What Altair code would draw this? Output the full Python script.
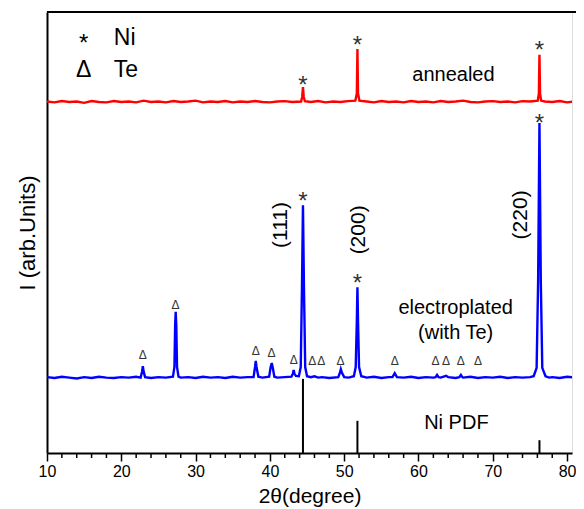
import altair as alt
import pandas as pd

# ---------------- data ----------------
red_x = [10, 11, 12, 13, 14, 15, 16, 17, 18, 19, 20, 21, 22, 23, 24, 25, 26, 27, 28, 29,
         30, 31, 32, 33, 34, 35, 36, 37, 38, 39, 40, 41, 42, 43,
         44.2, 44.35, 44.45, 44.55, 44.7,
         45.5, 46.5, 47.5, 48.5, 49.5, 50.5, 51.5,
         51.7, 51.78, 51.86, 52.05,
         53, 54, 55, 56, 57, 58, 59, 60, 61, 62, 63, 64, 65, 66, 67, 68, 69, 70, 71, 72, 73, 74, 75,
         76.05, 76.2, 76.28, 76.36, 76.5,
         77, 78, 79, 80, 81, 82, 83]
red_y = [797, 795, 798, 796, 797, 794, 798, 796, 795, 798, 796, 797, 795, 799, 796, 797, 795, 798, 796, 797,
         799, 795, 797, 796, 798, 795, 797, 796, 798, 796, 795, 797, 798, 796,
         797, 808, 830, 808, 798,
         796, 798, 795, 797, 796, 798, 799,
         815, 916, 815, 799,
         797, 795, 798, 796, 797, 795, 798, 796, 797, 795, 798, 796, 797, 799, 796, 795, 797, 798, 796, 797, 795, 798, 797,
         799, 815, 903, 815, 799,
         797, 796, 798, 795, 797, 796, 797]

blue_x = [10, 11, 12, 13, 14, 15, 16, 17, 18, 19, 20, 21, 22,
          22.6, 22.8, 22.9, 23.0, 23.2,
          24, 25, 26,
          26.95, 27.15, 27.25, 27.32, 27.4, 27.5, 27.7,
          28, 29, 30, 31, 32, 33, 34, 35, 36, 37,
          37.8, 38.0, 38.1, 38.2, 38.45,
          39, 39.9, 40.1, 40.25, 40.4, 40.6,
          41, 42, 42.9, 43.1, 43.2, 43.3, 43.5,
          43.9, 44.15, 44.32, 44.45, 44.58, 44.75, 45.0,
          45.5, 46.0, 46.5, 47, 48, 49.2, 49.45, 49.55, 49.7, 50, 50.6,
          51.3, 51.55, 51.7, 51.78, 51.86, 52.0, 52.3,
          52.8, 53, 54, 55, 56, 56.5, 56.8, 57.1,
          58, 59, 60, 61, 62, 62.3, 62.5, 62.7, 63, 63.7, 64, 65, 65.5, 65.7, 65.9,
          66, 67, 68, 69, 70, 71, 72, 73, 74, 75,
          75.5, 75.9, 76.1, 76.28, 76.46, 76.66, 77.1,
          77.6, 78, 79, 80, 81, 82, 83]
blue_y = [172, 170, 173, 171, 169, 172, 170, 173, 171, 170, 172, 171, 173,
          171, 185, 197, 185, 172,
          170, 172, 171,
          173, 195, 290, 320, 290, 195, 173,
          171, 172, 170, 173, 171, 172, 170, 173, 171, 172,
          172, 195, 209, 195, 173,
          171, 173, 195, 204, 192, 173,
          171, 172, 173, 180, 188, 180, 175,
          174, 195, 380, 562, 380, 195, 174,
          172, 174, 171, 172, 170, 172, 183, 190, 182, 172, 171,
          174, 195, 300, 376, 300, 195, 174,
          172, 171, 173, 170, 172, 172, 181, 172,
          171, 173, 170, 172, 171, 172, 177, 172, 171, 175, 172, 170, 172, 177, 172,
          171, 173, 170, 172, 171, 173, 170, 172, 171, 172,
          174, 193, 390, 748, 390, 193, 174,
          171, 172, 170, 173, 171, 172, 171]

pdf_x = [44.45, 51.78, 76.28]
pdf_h = [168, 73, 29]

minor_ticks = [12, 14, 16, 18, 22, 24, 26, 28, 32, 34, 36, 38, 42, 44, 46, 48,
               52, 54, 56, 58, 62, 64, 66, 68, 72, 74, 76, 78]

star_x = [44.45, 51.78, 76.28, 44.45, 51.78, 76.28]
star_y = [848, 939, 927, 585, 399, 762]

tri_x = [22.9, 27.3, 38.1, 40.2, 43.2, 45.7, 46.9, 49.5, 56.8, 62.3, 63.7, 65.7, 68.0]
tri_y = [222, 336, 231, 227, 211, 209, 209, 209, 209, 209, 209, 209, 209]

label_text = ["annealed", "electroplated", "(with Te)", "Ni PDF"]
label_x = [64.7, 65.0, 65.0, 65.1]
label_y = [857, 329, 272, 68]

hkl_text = ["(111)", "(200)", "(220)"]
hkl_x = [41.45, 51.95, 73.76]
hkl_y = [517, 506, 540]

legend_sym = ["*", "Δ"]
legend_name = ["Ni", "Te"]
legend_sym_x = [14.95, 14.95]
legend_name_x = [19.0, 19.0]
legend_y = [941, 868]
legend_sym_dy = [6, 0]

FONT = "Liberation Sans"
W, H = 525, 441

xscale = alt.Scale(domain=[10, 80.66], nice=False, zero=False)
yscale = alt.Scale(domain=[0, 1000], nice=False, zero=False)

xaxis = alt.Axis(values=[10, 20, 30, 40, 50, 60, 70, 80], tickSize=8, tickWidth=1.5,
                 tickColor="black", domainColor="black", domainWidth=2,
                 labelFontSize=16, labelFont=FONT, labelColor="black", labelPadding=2,
                 labelFlush=False, labelOverlap=False,
                 title="2θ(degree)", titleFont=FONT, titleFontSize=21,
                 titleFontWeight="normal", titleColor="black", titlePadding=6, grid=False)
yaxis = alt.Axis(labels=False, ticks=False, grid=False, domainColor="black", domainWidth=2,
                 title="I (arb.Units)", titleFont=FONT, titleFontSize=22,
                 titleFontWeight="normal", titleColor="black", titlePadding=8)

red_df = pd.DataFrame({"x": red_x, "y": red_y})
blue_df = pd.DataFrame({"x": blue_x, "y": blue_y})

red = alt.Chart(red_df).mark_line(color="#ff0000", strokeWidth=2.4, clip=True).encode(
    x=alt.X("x:Q", scale=xscale, axis=xaxis),
    y=alt.Y("y:Q", scale=yscale, axis=yaxis))
blue = alt.Chart(blue_df).mark_line(color="#0000ff", strokeWidth=2.4, clip=True).encode(
    x=alt.X("x:Q", scale=xscale), y=alt.Y("y:Q", scale=yscale))

pdf = alt.Chart(pd.DataFrame({"x": pdf_x, "h": pdf_h, "b": [0] * len(pdf_x)})).mark_rule(
    color="black", strokeWidth=2).encode(
    x=alt.X("x:Q", scale=xscale), y=alt.Y("b:Q", scale=yscale), y2="h:Q")

minor = alt.Chart(pd.DataFrame({"x": minor_ticks})).mark_rule(
    color="black", strokeWidth=1.5, clip=False).encode(
    x=alt.X("x:Q", scale=xscale), y=alt.value(H), y2=alt.value(H + 5))

top_border = alt.Chart(pd.DataFrame({"x": [0]})).mark_rule(
    color="black", strokeWidth=2, clip=False).encode(
    x=alt.value(0), x2=alt.value(W + 4), y=alt.value(0))

stars = alt.Chart(pd.DataFrame({"x": star_x, "y": star_y})).mark_text(
    text="*", font=FONT, fontSize=24, color="#333333", baseline="middle", dy=7).encode(
    x=alt.X("x:Q", scale=xscale), y=alt.Y("y:Q", scale=yscale))

tris = alt.Chart(pd.DataFrame({"x": tri_x, "y": tri_y})).mark_text(
    text="Δ", font=FONT, fontSize=12, color="#333333", baseline="middle").encode(
    x=alt.X("x:Q", scale=xscale), y=alt.Y("y:Q", scale=yscale))

labels = alt.Chart(pd.DataFrame({"x": label_x, "y": label_y, "t": label_text})).mark_text(
    font=FONT, fontSize=20, color="black", baseline="middle").encode(
    x=alt.X("x:Q", scale=xscale), y=alt.Y("y:Q", scale=yscale), text="t:N")

hkl = alt.Chart(pd.DataFrame({"x": hkl_x, "y": hkl_y, "t": hkl_text})).mark_text(
    font=FONT, fontSize=21, color="black", baseline="middle", angle=270).encode(
    x=alt.X("x:Q", scale=xscale), y=alt.Y("y:Q", scale=yscale), text="t:N")

leg_star = alt.Chart(pd.DataFrame({"x": legend_sym_x[:1], "y": legend_y[:1]})).mark_text(
    text=legend_sym[0], font=FONT, fontSize=24, color="black", baseline="middle",
    dy=legend_sym_dy[0]).encode(
    x=alt.X("x:Q", scale=xscale), y=alt.Y("y:Q", scale=yscale))

leg_tri = alt.Chart(pd.DataFrame({"x": legend_sym_x[1:], "y": legend_y[1:]})).mark_text(
    text=legend_sym[1], font=FONT, fontSize=23, color="black", baseline="middle",
    dy=legend_sym_dy[1]).encode(
    x=alt.X("x:Q", scale=xscale), y=alt.Y("y:Q", scale=yscale))

leg_name = alt.Chart(pd.DataFrame({"x": legend_name_x, "y": legend_y, "t": legend_name})).mark_text(
    font=FONT, fontSize=23, color="black", baseline="middle", align="left").encode(
    x=alt.X("x:Q", scale=xscale), y=alt.Y("y:Q", scale=yscale), text="t:N")

chart = alt.layer(red, blue, pdf, minor, top_border, stars, tris, labels, hkl,
                  leg_star, leg_tri, leg_name).properties(
    width=W, height=H,
    autosize=alt.AutoSizeParams(type="none"),
    padding={"left": 39, "top": 4, "right": 4, "bottom": 60},
).configure_view(strokeWidth=0).configure(background="white")

chart.save("out.html", embed_options={"renderer": "svg", "actions": False})
